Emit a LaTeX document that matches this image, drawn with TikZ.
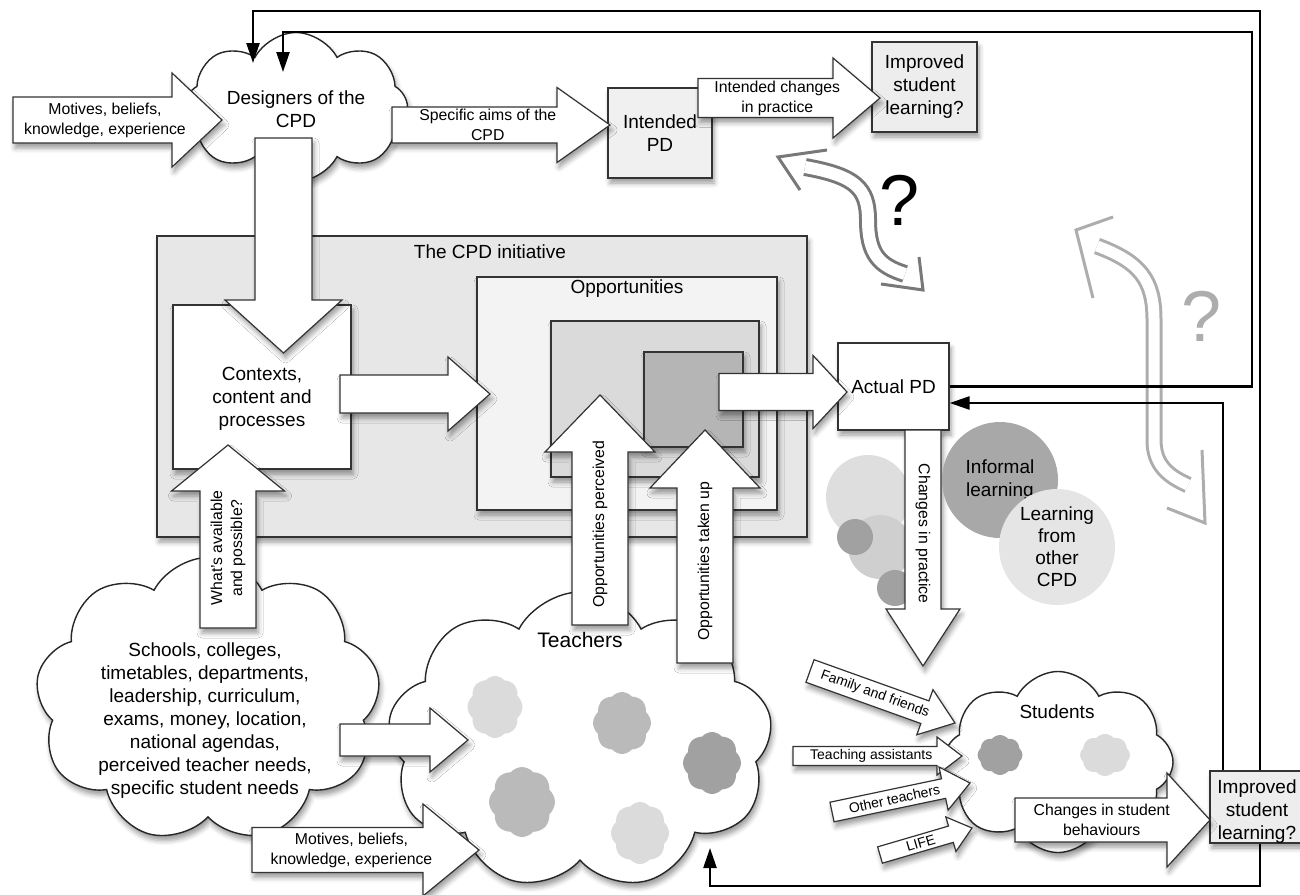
\documentclass[tikz,border=0pt]{standalone}
\usepackage{fontspec}
\setmainfont{Liberation Sans}
\usetikzlibrary{shapes.symbols,shadows.blur,arrows.meta}
\definecolor{edge}{gray}{0.2}
\definecolor{cpdfill}{gray}{0.905}
\definecolor{oppfill}{gray}{0.953}
\definecolor{innerfill}{gray}{0.855}
\definecolor{corefill}{gray}{0.71}
\definecolor{pdfill}{gray}{0.94}
\definecolor{impfill}{gray}{0.93}
\definecolor{puffA}{gray}{0.86}
\definecolor{puffB}{gray}{0.73}
\definecolor{puffC}{gray}{0.63}
\definecolor{circA}{gray}{0.87}
\definecolor{circB}{gray}{0.81}
\definecolor{circC}{gray}{0.63}
\definecolor{circD}{gray}{0.66}
\definecolor{circE}{gray}{0.9}
\definecolor{waveA}{gray}{0.47}
\definecolor{waveB}{gray}{0.68}
\newcommand\fbig{\fontsize{9.5}{11.5}\selectfont}
\newcommand\fsmall{\fontsize{7.9}{10}\selectfont}
\newcommand\ftiny{\fontsize{7}{8}\selectfont}
\newcounter{fac}
% fat block arrow: x0 y0 (start of shaft), x2 y2 (tip), shaft half width, head half width, head length, font, text
\newcommand\fatarr[9]{%
  \stepcounter{fac}%
  \pgfmathsetmacro\fdx{#3-#1}%
  \pgfmathsetmacro\fdy{#4-#2}%
  \pgfmathsetmacro\fL{veclen(\fdx,\fdy)}%
  \pgfmathsetmacro\fxa{\fdx*0.5/\fL}%
  \pgfmathsetmacro\fxb{\fdy*(-0.5)/\fL}%
  \pgfmathsetmacro\fya{\fdy*0.5/\fL}%
  \pgfmathsetmacro\fyb{\fdx*0.5/\fL}%
  \pgfmathsetmacro\fang{atan2(\fdy*(-1),\fdx)}%
  \begin{scope}[shift={(#1,#2)}, x={(\fxa pt,\fxb pt)}, y={(\fya pt,\fyb pt)}]
    \draw[fatarrow] (0,-#5) -- ({\fL-#7},-#5) -- ({\fL-#7},-#6) -- (\fL,0) -- ({\fL-#7},#6) -- ({\fL-#7},#5) -- (0,#5) -- cycle;
    \node[lbl, font=#8, rotate=\fang] (farrow\arabic{fac}) at ({(\fL-#7/2)/2},0) {#9};
  \end{scope}}
\newcommand\boxnode[7][]{%
  \node[boxst,#1,minimum width={(#5-#3)*0.5pt},minimum height={(#6-#4)*0.5pt}] (#2) at ({(#3+#5)/2},{(#4+#6)/2}) {#7};}
\begin{document}
\begin{tikzpicture}[x=0.5pt,y=-0.5pt,
  softshadow/.style={blur shadow={shadow xshift=1pt, shadow yshift=-2.5pt, shadow blur radius=2.5pt, shadow opacity=40}},
  fatarrow/.style={draw=edge, fill=white, line width=0.6pt, line join=miter, softshadow},
  boxst/.style={draw=edge, line width=0.6pt, inner sep=1pt, align=center, font=\fbig, softshadow},
  cloudst/.style={cloud, cloud puffs=#1, cloud puff arc=125, cloud ignores aspect, draw=black!85, fill=white, line width=0.7pt, inner sep=0pt, softshadow},
  puff/.style={cloud, cloud puffs=8, cloud puff arc=100, cloud ignores aspect, fill=#1, draw=none, inner sep=0pt},
  fb/.style={draw=black, line width=1.2pt},
  fbtip/.style={-{Triangle[length=10pt,width=6.5pt]}},
  wave/.style={line width=1.5pt, draw=#1},
  lbl/.style={align=center, inner sep=0pt},
  dot/.style={circle, inner sep=0pt, draw=none}]
\useasboundingbox (0,0) rectangle (1300,894);

% wavy double-headed arrows
\draw[wave=waveA, double=white, double distance=6pt] (805,167) .. controls (855,176) and (868,188) .. (868,220) .. controls (868,255) and (880,266) .. (905,274);
\draw[wave=waveA] (827,150) -- (778,157) -- (800,190);
\draw[wave=waveA] (919,257) -- (923,290) -- (881,284);
\node[font=\fontsize{36}{40}\selectfont] (qA) at (900,200) {?};
\draw[wave=waveB, double=white, double distance=5.5pt] (1097,246) .. controls (1140,262) and (1154,280) .. (1154,320) -- (1154,440) .. controls (1154,465) and (1168,476) .. (1188,485);
\draw[wave=waveB] (1113,217) -- (1076,230) -- (1093,298);
\draw[wave=waveB] (1202,450) -- (1205,523) -- (1167,508);
\node[font=\fontsize{36}{40}\selectfont, text=waveB] (qB) at (1202,316) {?};

% designers
\node[cloudst=8, minimum width={223*0.5pt}, minimum height={149*0.5pt}] (designers) at (296,107) {};
\node[lbl, font=\fbig] (designerstxt) at (296,109) {Designers of the\\CPD};
\fatarr{13}{120}{222}{120}{23}{47}{50}{\fsmall}{Motives, beliefs,\\knowledge, experience}
\boxnode[fill=pdfill]{intended}{608}{88}{712}{178}{Intended\\PD}
\fatarr{392}{125}{610}{125}{18}{37.5}{53}{\fsmall}{Specific aims of the\\CPD}
\boxnode[fill=impfill]{improvedA}{872}{42}{977}{132}{Improved\\student\\learning?}
\fatarr{698}{98}{880}{98}{19.5}{40}{47}{\fsmall}{Intended changes\\in practice}

% CPD initiative
\boxnode[fill=cpdfill]{cpd}{157}{236}{807}{537}{}
\node[lbl, font=\fbig] (cpdtitle) at (490,252) {The CPD initiative};
\boxnode[fill=oppfill]{opp}{477}{277}{777}{510}{}
\node[lbl, font=\fbig] (opptitle) at (627,289) {Opportunities};
\boxnode[fill=innerfill]{perceived}{551}{321}{759}{477}{}
\boxnode[fill=corefill]{takenup}{644}{352}{743}{447}{}
\boxnode[fill=white]{contexts}{173}{305}{351}{469}{}
\node[lbl, font=\fbig] (contextstxt) at (262,399) {Contexts,\\content and\\processes};
\fatarr{283.5}{138}{283.5}{353}{28.5}{58.5}{53}{\fsmall}{}
\fatarr{340}{394}{490}{394}{19}{37}{42}{\fsmall}{}
\boxnode[fill=white]{actual}{838}{343}{949}{430}{Actual PD}
\fatarr{719}{392}{847}{392}{18.5}{36.5}{34}{\fsmall}{}

% schools
\node[cloudst=9, minimum width={345*0.5pt}, minimum height={285*0.5pt}] (schools) at (208,700) {};
\node[lbl, font=\fbig] (schoolstxt) at (205,721) {Schools, colleges,\\timetables, departments,\\leadership, curriculum,\\exams, money, location,\\national agendas,\\perceived teacher needs,\\specific student needs};
\fatarr{228}{628}{228}{445}{28}{56.5}{46}{\fsmall}{What's available\\and possible?}

% teachers
\node[cloudst=9, minimum width={385*0.5pt}, minimum height={298*0.5pt}] (teachers) at (580,741) {};
\node[puff=puffA, minimum width={55*0.5pt}, minimum height={62*0.5pt}] (tpA) at (495,707) {};
\node[puff=puffB, minimum width={58*0.5pt}, minimum height={62*0.5pt}] (tpB) at (622,723) {};
\node[puff=puffC, minimum width={58*0.5pt}, minimum height={62*0.5pt}] (tpC) at (712,763) {};
\node[puff=puffB, minimum width={66*0.5pt}, minimum height={70*0.5pt}] (tpD) at (522,802) {};
\node[puff=puffA, minimum width={58*0.5pt}, minimum height={62*0.5pt}] (tpE) at (640,833) {};
\node[lbl, font=\fontsize{10.5}{12}\selectfont] (teacherstxt) at (580,640) {Teachers};
\fatarr{340}{740}{468}{740}{16}{32}{38}{\fsmall}{}
\fatarr{252}{850}{479}{850}{22.5}{46}{56}{\fsmall}{Motives, beliefs,\\knowledge, experience}
\fatarr{600}{625}{600}{395}{28}{55}{57}{\fsmall}{Opportunities perceived}
\fatarr{705}{663}{705}{430}{28}{55}{58}{\fsmall}{Opportunities taken up}

% other learning circles
\node[dot, fill=circA, minimum size={84*0.5pt}] (cA) at (868,497) {};
\node[dot, fill=circB, minimum size={64*0.5pt}] (cB) at (880,547) {};
\node[dot, fill=circC, minimum size={36*0.5pt}] (cC) at (855,537) {};
\node[dot, fill=circC, minimum size={36*0.5pt}] (cD) at (895,588) {};
\fatarr{923}{430}{923}{666}{18}{37}{57}{\fsmall}{Changes in practice}
\node[dot, fill=circD, minimum size={116*0.5pt}, align=center, font=\fbig] (informal) at (1000,480) {Informal\\learning};
\node[dot, fill=circE, minimum size={116*0.5pt}, align=center, font=\fontsize{9.5}{11}\selectfont] (otherCPD) at (1057,547) {Learning\\from\\other\\CPD};

% students
\node[cloudst=8, minimum width={230*0.5pt}, minimum height={181*0.5pt}] (students) at (1058,762) {};
\node[puff=puffC, minimum width={45*0.5pt}, minimum height={40*0.5pt}] (spA) at (1000,755) {};
\node[puff=puffA, minimum width={50*0.5pt}, minimum height={42*0.5pt}] (spB) at (1105,755) {};
\node[lbl, font=\fbig] (studentstxt) at (1057,712) {Students};
\fatarr{810}{671}{955}{723}{12}{24}{32}{\ftiny}{Family and friends}
\fatarr{793}{756}{962}{756}{9.5}{19}{25}{\ftiny}{Teaching assistants}
\fatarr{832}{812}{970}{783}{10}{22}{27}{\ftiny}{Other teachers}
\fatarr{880}{855}{972}{828}{8.5}{18}{22}{\ftiny}{LIFE}
\boxnode[fill=impfill]{improvedB}{1210}{771}{1306}{843}{}
\node[lbl, font=\fbig] (improvedBtxt) at (1257,812) {Improved\\student\\learning?};
\fatarr{1015}{820}{1210}{820}{22}{47}{43}{\fsmall}{Changes in student\\behaviours}

% feedback connectors
\coordinate (colA) at (1260,0);
\coordinate (colB) at (1223,0);
\coordinate (rowC) at (0,403);
\coordinate (dtipA) at (253,63);
\coordinate (dtipB) at (283,72);
\coordinate (ttip) at (710,848);
\draw[fb, fbtip] (actual.east) -- (1252,386.5) -- (1252,32) -- (283,32) -- (dtipB);
\draw[fb, fbtip] (improvedB.north -| colA) -- (1260,11) -- (253,11) -- (dtipA);
\draw[fb, fbtip] (improvedB.north -| colB) -- (1223,403) -- (actual.east |- rowC);
\draw[fb, fbtip] (improvedB.south -| colA) -- (1260,886) -- (710,886) -- (ttip);
\end{tikzpicture}
\end{document}
